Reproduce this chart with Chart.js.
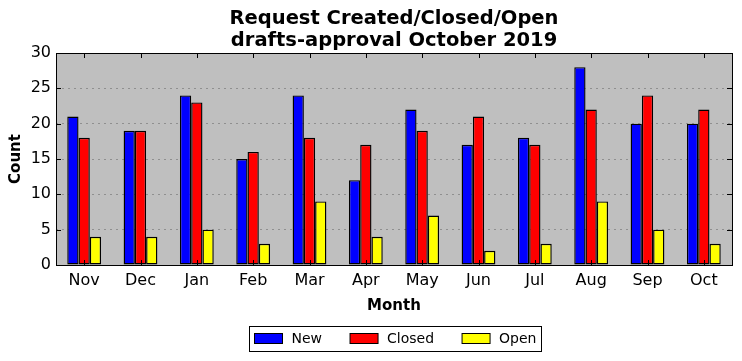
<!DOCTYPE html>
<html>
<head>
<meta charset="utf-8">
<script src="https://cdn.jsdelivr.net/npm/chart.js@4"></script>
<style>
  html, body { margin: 0; padding: 0; background: #fff; }
  #wrap { width: 742px; height: 361px; }
</style>
</head>
<body>
<div id="wrap"><canvas id="chart" width="742" height="361"></canvas></div>
<script>
const months = ["Nov", "Dec", "Jan", "Feb", "Mar", "Apr", "May", "Jun", "Jul", "Aug", "Sep", "Oct"];
const newCounts = [21, 19, 24, 15, 24, 12, 22, 17, 18, 28, 20, 20];
const closedCounts = [18, 19, 23, 16, 18, 17, 19, 21, 17, 22, 24, 22];
const openCounts = [4, 4, 5, 3, 9, 4, 7, 2, 3, 9, 5, 3];
const yTicks = [0, 5, 10, 15, 20, 25, 30];
const titleLines = ["Request Created/Closed/Open", "drafts-approval October 2019"];

const FONT = "'DejaVu Sans', sans-serif";

// gray plot background, full frame, inward ticks, title over the plot, boxed legend
const frame = {
  id: "frame",
  beforeDraw(chart) {
    const { ctx, chartArea: a } = chart;
    ctx.save();
    ctx.fillStyle = "#bfbfbf";
    ctx.fillRect(a.left, a.top, a.right - a.left, a.bottom - a.top);
    ctx.restore();
  },
  afterDatasetsDraw(chart) {
    const { ctx, chartArea: a, scales } = chart;
    ctx.save();
    ctx.strokeStyle = "#000";
    ctx.lineWidth = 1;
    ctx.beginPath();
    scales.x.ticks.forEach((t, i) => {
      const x = Math.round(scales.x.getPixelForTick(i)) + 0.5;
      ctx.moveTo(x, a.top); ctx.lineTo(x, a.top + 5);
      ctx.moveTo(x, a.bottom); ctx.lineTo(x, a.bottom - 5);
    });
    yTicks.forEach(v => {
      const y = Math.round(scales.y.getPixelForValue(v)) + 0.5;
      ctx.moveTo(a.left, y); ctx.lineTo(a.left + 5, y);
      ctx.moveTo(a.right, y); ctx.lineTo(a.right - 5, y);
    });
    ctx.stroke();
    ctx.strokeRect(Math.round(a.left) + 0.5, Math.round(a.top) + 0.5,
      Math.round(a.right - a.left), Math.round(a.bottom - a.top));
    ctx.restore();
  },
  afterDraw(chart) {
    const { ctx, chartArea: a } = chart;
    ctx.save();
    // title, centred on the plot area
    ctx.fillStyle = "#000";
    ctx.font = "bold 19.5px " + FONT;
    ctx.textAlign = "center";
    ctx.textBaseline = "middle";
    const cx = (a.left + a.right) / 2;
    titleLines.forEach((t, i) => ctx.fillText(t, cx, 19 + i * 22));

    // legend
    ctx.textAlign = "left";
    ctx.fillStyle = "#fff";
    ctx.strokeStyle = "#000";
    ctx.lineWidth = 1;
    ctx.fillRect(249.5, 326.5, 292, 25);
    ctx.strokeRect(249.5, 326.5, 292, 25);
    ctx.font = "14px " + FONT;
    let x = 254.5;
    chart.data.datasets.forEach(ds => {
      ctx.fillStyle = ds.backgroundColor;
      ctx.fillRect(x, 333.5, 28, 10);
      ctx.strokeRect(x, 333.5, 28, 10);
      ctx.fillStyle = "#000";
      ctx.fillText(ds.label, x + 37, 339);
      x += 37 + ctx.measureText(ds.label).width + 28;
    });
    ctx.restore();
  }
};

new Chart(document.getElementById("chart"), {
  type: "bar",
  data: {
    labels: months,
    datasets: [
      { label: "New", data: newCounts, backgroundColor: "#0000ff" },
      { label: "Closed", data: closedCounts, backgroundColor: "#ff0000" },
      { label: "Open", data: openCounts, backgroundColor: "#ffff00" }
    ].map(d => Object.assign(d, {
      borderColor: "#000",
      borderWidth: 1.4,
      borderSkipped: false,
      categoryPercentage: 0.6,
      barPercentage: 1.0
    }))
  },
  options: {
    responsive: false,
    animation: false,
    layout: { padding: { left: 7, right: 10, top: 53, bottom: 46 } },
    plugins: {
      legend: { display: false },
      tooltip: { enabled: false },
      title: { display: false }
    },
    scales: {
      x: {
        grid: { display: false, drawTicks: false },
        border: { display: false },
        ticks: { color: "#000", font: { family: FONT, size: 16 }, padding: 6, maxRotation: 0 },
        title: {
          display: true, text: "Month", color: "#000",
          font: { family: FONT, size: 15, weight: "bold" }, padding: { top: 2, bottom: 0 }
        },
        afterFit(s) { s.height = 50; }
      },
      y: {
        min: 0, max: 30,
        afterBuildTicks(s) { s.ticks = yTicks.map(v => ({ value: v })); },
        grid: { color: "rgba(0,0,0,0.25)", drawTicks: false, tickLength: 0 },
        border: { display: false, dash: [2, 4] },
        ticks: { color: "#000", font: { family: FONT, size: 16 }, padding: 5 },
        title: {
          display: true, text: "Count", color: "#000",
          font: { family: FONT, size: 15, weight: "bold" }, padding: { top: 0, bottom: 4 }
        },
        afterFit(s) { s.width = 49; }
      }
    }
  },
  plugins: [frame]
});
</script>
</body>
</html>
